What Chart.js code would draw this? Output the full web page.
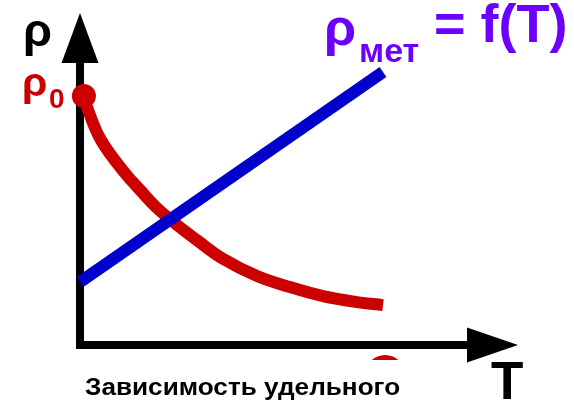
<!DOCTYPE html>
<html>
<head>
<meta charset="utf-8">
<script src="https://cdn.jsdelivr.net/npm/chart.js@4"></script>
<style>
  html, body { margin: 0; padding: 0; background: #fff; }
  canvas { display: block; }
</style>
</head>
<body>
<canvas id="c" width="574" height="402"></canvas>
<script>
// Schematic data (arbitrary units): T along x, ρ along y
const metalT   = [0, 10.1];
const metalRho = [2.1, 9.1];
const semiT    = [0.13, 0.27, 0.7, 1.5, 2.0, 2.53, 3.2, 3.93, 4.77, 5.9, 7.0, 8.1, 9.23, 10.1];
const semiRho  = [8.3, 7.83, 6.83, 5.73, 5.17, 4.6, 4.03, 3.47, 2.87, 2.3, 1.93, 1.63, 1.43, 1.33];
const rho0T    = [0.13];
const rho0Rho  = [8.3];
const lowDotT  = [10.17];
const lowDotRho= [-1.0];
const axisRange = { Tmin: 0, Tmax: 15, rhoMin: -1.9, rhoMax: 11 };

const RED = '#cc0000', BLUE = '#0000cc', PURPLE = '#6c00ff';
const FONT = '"Liberation Sans", Arial, sans-serif';

const pts = (xs, ys) => xs.map((x, i) => ({ x, y: ys[i] }));

const axesPlugin = {
  id: 'axes',
  beforeDatasetsDraw(chart) {
    const ctx = chart.ctx, xs = chart.scales.x, ys = chart.scales.y;
    const ox = xs.getPixelForValue(0), oy = ys.getPixelForValue(0);
    ctx.save();
    ctx.fillStyle = '#000';
    ctx.fillRect(ox - 4, 62, 8, oy + 4 - 62);
    ctx.fillRect(ox - 4, oy - 4, 468 - (ox - 4), 8);
    ctx.beginPath();
    ctx.moveTo(ox, 13); ctx.lineTo(ox - 18.5, 63); ctx.lineTo(ox + 18.5, 63); ctx.closePath(); ctx.fill();
    ctx.beginPath();
    ctx.moveTo(518, oy); ctx.lineTo(467, oy - 17.5); ctx.lineTo(467, oy + 17.5); ctx.closePath(); ctx.fill();
    ctx.restore();
  },
  afterDraw(chart) {
    const ctx = chart.ctx;
    ctx.save();
    ctx.textBaseline = 'alphabetic';
    ctx.textAlign = 'left';
    ctx.fillStyle = '#000';
    ctx.font = 'bold 47px ' + FONT;
    ctx.fillText('ρ', 23, 46);
    ctx.fillStyle = RED;
    ctx.font = 'bold 41px ' + FONT;
    ctx.fillText('ρ', 22, 96);
    ctx.font = 'bold 28px ' + FONT;
    ctx.fillText('0', 49, 108);
    ctx.fillStyle = PURPLE;
    ctx.font = 'bold 52px ' + FONT;
    ctx.fillText('ρ', 324, 45);
    ctx.font = 'bold 34px ' + FONT;
    ctx.fillText('мет', 359, 62);
    ctx.font = 'bold 54px ' + FONT;
    ctx.fillText('= f(T)', 434, 42);
    ctx.fillStyle = '#000';
    ctx.font = 'bold 53px ' + FONT;
    ctx.fillText('T', 491, 399);
    ctx.font = 'bold 24px ' + FONT;
    ctx.translate(85, 395);
    ctx.scale(1.09, 1);
    ctx.fillText('Зависимость удельного', 0, 0);
    ctx.restore();
  }
};

new Chart(document.getElementById('c'), {
  type: 'scatter',
  data: {
    datasets: [
      {
        data: pts(lowDotT, lowDotRho),
        pointRadius: 20, pointBackgroundColor: RED, pointBorderWidth: 0,
        showLine: false, clip: { left: 0, top: 0, right: 0, bottom: -42 }
      },
      {
        data: pts(metalT, metalRho),
        showLine: true, borderColor: BLUE, borderWidth: 12, borderCapStyle: 'butt',
        pointRadius: 0, clip: false
      },
      {
        data: pts(semiT, semiRho),
        showLine: true, borderColor: RED, borderWidth: 12, borderCapStyle: 'butt',
        tension: 0.4, pointRadius: 0, clip: false
      },
      {
        data: pts(rho0T, rho0Rho),
        showLine: false, pointRadius: 12, pointBackgroundColor: RED, pointBorderWidth: 0, clip: false
      }
    ]
  },
  options: {
    responsive: false,
    animation: false,
    layout: { autoPadding: false, padding: { left: 80, right: 44, top: 15, bottom: 0 } },
    plugins: { legend: { display: false }, tooltip: { enabled: false } },
    scales: {
      x: { type: 'linear', display: false, min: axisRange.Tmin, max: axisRange.Tmax },
      y: { type: 'linear', display: false, min: axisRange.rhoMin, max: axisRange.rhoMax }
    }
  },
  plugins: [axesPlugin]
});
</script>
</body>
</html>
